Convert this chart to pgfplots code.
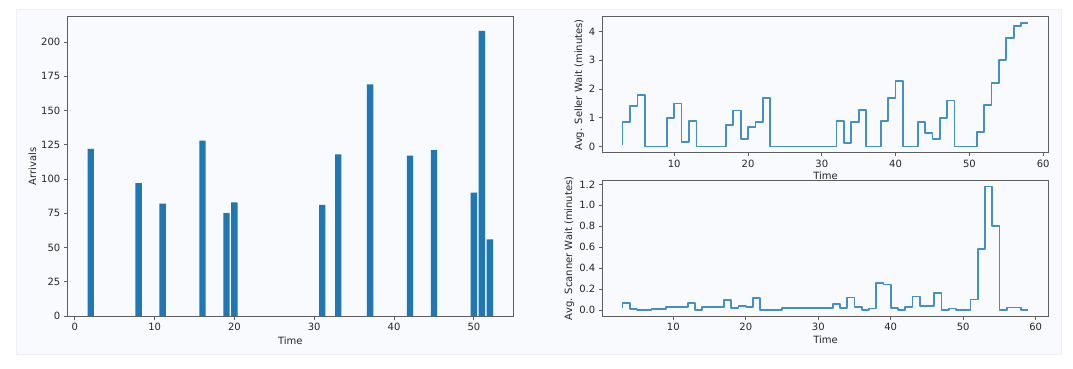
\documentclass[border=0pt]{standalone}
\usepackage{fontspec}
\setmainfont{DejaVu Sans}
\usepackage{pgfplots}
\usepackage{pgfplotstable}
\pgfplotsset{compat=1.18}
\definecolor{mplblue}{HTML}{1F77B4}
\definecolor{lineblue}{HTML}{4590C3}
\definecolor{panel}{HTML}{F8FAFD}
\definecolor{panelborder}{HTML}{EDF1F7}
\definecolor{spine}{HTML}{5E5E5E}
\definecolor{txt}{HTML}{262626}

\pgfplotstableread{
x y
2 122
8 97
11 82
16 128
19 75
20 83
31 81
33 118
37 169
42 117
45 121
50 90
51 208
52 56
}\arrivals

\pgfplotstableread{
x y
3 0.07
4 0.85
5 1.4
6 1.8
7 0
8 0
9 0
10 1.0
11 1.5
12 0.15
13 0.88
14 0
15 0
16 0
17 0
18 0.75
19 1.25
20 0.25
21 0.68
22 0.85
23 1.68
24 0
25 0
26 0
27 0
28 0
29 0
30 0
31 0
32 0
33 0.88
34 0.12
35 0.85
36 1.28
37 0
38 0
39 0.88
40 1.68
41 2.28
42 0
43 0
44 0.85
45 0.48
46 0.25
47 1.0
48 1.6
49 0
50 0
51 0
52 0.5
53 1.45
54 2.22
55 3.0
56 3.77
57 4.18
58 4.3
}\seller

\pgfplotstableread{
x y
3 0.02
4 0.065
5 0.01
6 0
7 0
8 0.01
9 0.01
10 0.03
11 0.03
12 0.03
13 0.065
14 0
15 0.03
16 0.03
17 0.03
18 0.095
19 0.02
20 0.04
21 0.03
22 0.115
23 0
24 0
25 0
26 0.02
27 0.02
28 0.02
29 0.02
30 0.02
31 0.02
32 0.02
33 0.058
34 0.02
35 0.12
36 0.03
37 0
38 0.015
39 0.26
40 0.245
41 0.02
42 0
43 0.03
44 0.13
45 0.04
46 0.04
47 0.165
48 0
49 0.015
50 0
51 0
52 0.1
53 0.585
54 1.18
55 0.805
56 0
57 0.025
58 0.025
59 0
}\scanner

\pgfplotsset{
 mystyle/.style={
  scale only axis,
  anchor=south west,
  axis line style={spine, line width=0.8pt},
  tick style={spine, line width=0.8pt},
  tick align=outside,
  major tick length=3.5pt,
  tick pos=left,
  tick label style={font=\fontsize{10}{12}\selectfont, text=txt},
  label style={font=\fontsize{10}{12}\selectfont, text=txt},
  /pgf/number format/assume math mode=true,
  clip=true,
 }
}

\begin{document}
\begin{tikzpicture}[x=1pt,y=1pt]
\path[use as bounding box] (0,0) rectangle (1073,368);
\fill[panel, draw=panelborder, line width=0.8pt] (16,14) rectangle (1061,359);

% Left: arrivals
\begin{axis}[mystyle,
  at={(67.3pt,52pt)}, width=446pt, height=299.3pt,
  xmin=-0.94, xmax=54.94, ymin=0, ymax=218.4,
  xtick={0,10,20,30,40,50},
  ytick={0,25,50,75,100,125,150,175,200},
  xlabel={Time}, ylabel={Arrivals},
  xlabel style={at={(axis description cs:0.5,-0.0825)}, anchor=center},
  ylabel style={at={(axis description cs:-0.0785,0.5)}, anchor=center},
]
\addplot[ybar, bar width=0.8, bar shift=0pt, fill=mplblue, draw=none] table[x=x,y=y] {\arrivals};
\end{axis}

% Right top: seller wait
\begin{axis}[mystyle,
  at={(602.3pt,215.3pt)}, width=446.4pt, height=136pt,
  xmin=0.25, xmax=60.75, ymin=-0.215, ymax=4.515,
  xtick={10,20,30,40,50,60},
  ytick={0,1,2,3,4},
  xlabel={Time}, ylabel={Avg. Seller Wait (minutes)},
  xlabel style={at={(axis description cs:0.5,-0.171)}, anchor=center},
  ylabel style={at={(axis description cs:-0.0515,0.5)}, anchor=center},
]
\addplot[const plot mark right, lineblue, line width=1.7pt, line join=round, mark=none] table[x=x,y=y] {\seller};
\end{axis}

% Right bottom: scanner wait
\begin{axis}[mystyle,
  at={(602.3pt,51.7pt)}, width=446.4pt, height=136pt,
  xmin=0.2, xmax=61.8, ymin=-0.059, ymax=1.239,
  xtick={10,20,30,40,50,60},
  ytick={0,0.2,0.4,0.6,0.8,1.0,1.2},
  yticklabel style={/pgf/number format/.cd, fixed, fixed zerofill, precision=1},
  xlabel={Time}, ylabel={Avg. Scanner Wait (minutes)},
  xlabel style={at={(axis description cs:0.5,-0.172)}, anchor=center},
  ylabel style={at={(axis description cs:-0.0739,0.5)}, anchor=center},
]
\addplot[const plot mark right, lineblue, line width=1.7pt, line join=round, mark=none] table[x=x,y=y] {\scanner};
\end{axis}
\end{tikzpicture}
\end{document}
